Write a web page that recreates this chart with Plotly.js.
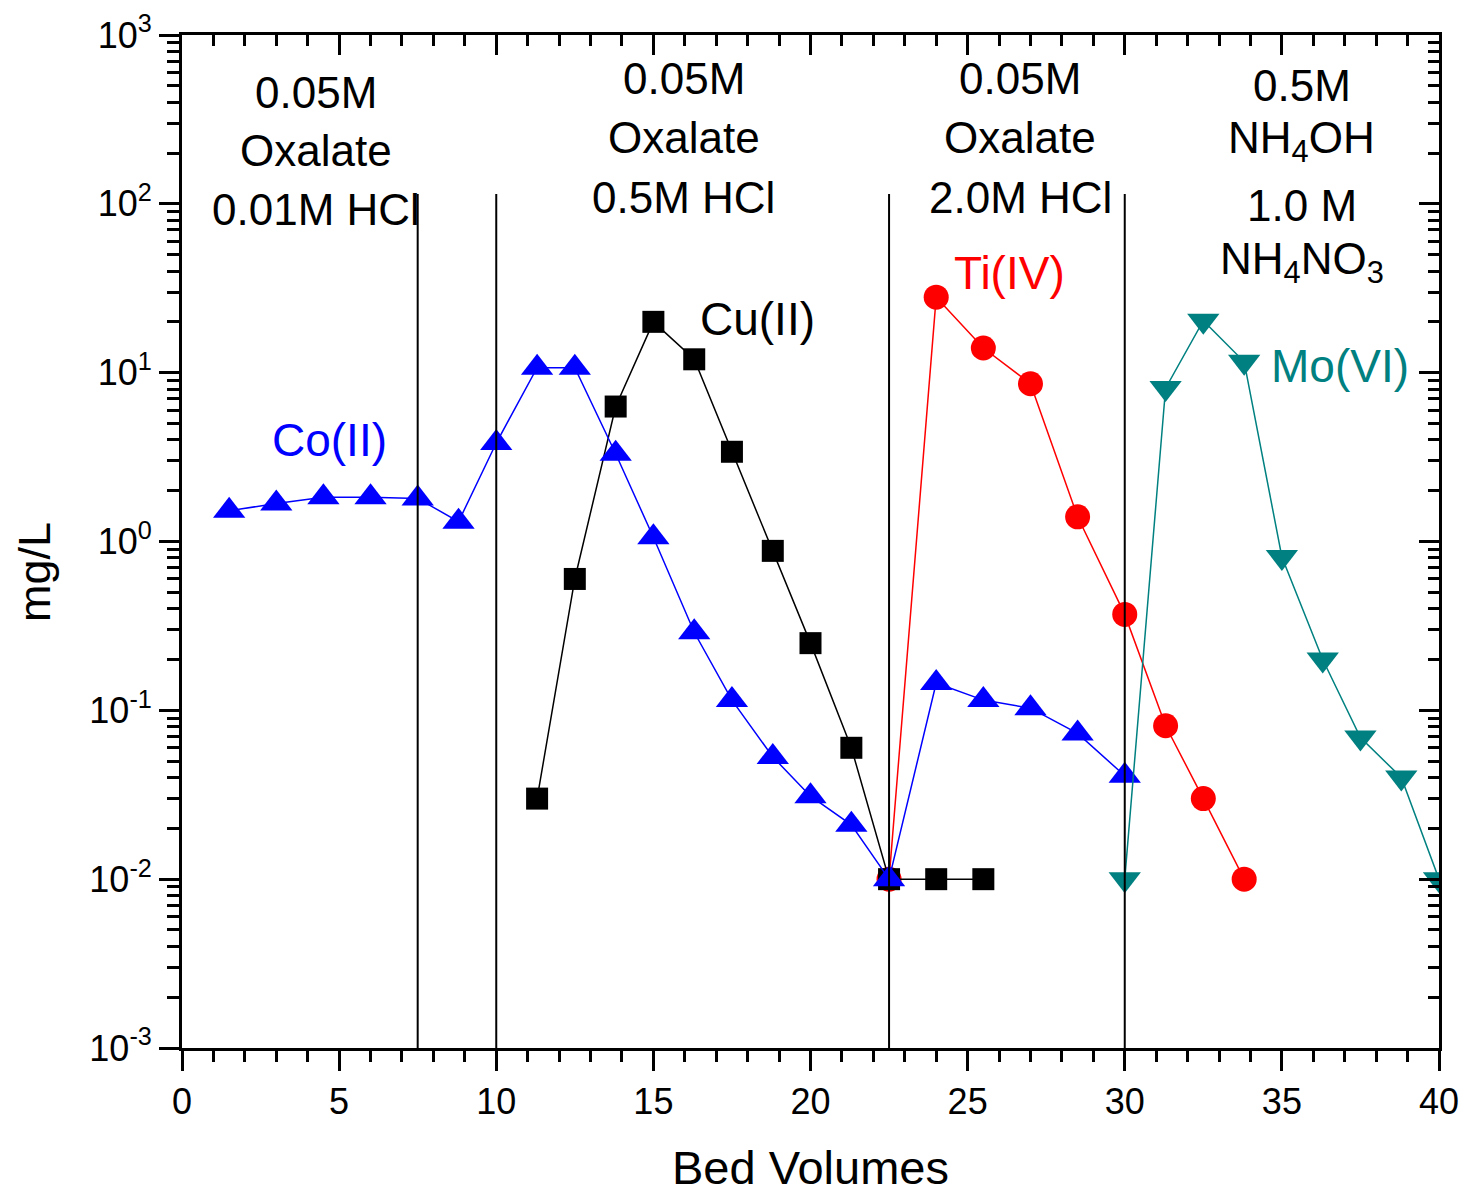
<!DOCTYPE html>
<html>
<head>
<meta charset="utf-8">
<script src="https://cdn.plot.ly/plotly-3.0.1.min.js"></script>
<style>html,body{margin:0;padding:0;background:#fff;}#chart{width:1465px;height:1194px;}</style>
</head>
<body>
<div id="chart"></div>
<script>
// ---- data ----
const xCo = [1.5, 3, 4.5, 6, 7.5, 8.8, 10, 11.3, 12.5, 13.8, 15, 16.3, 17.5, 18.8, 20, 21.3, 22.5, 24, 25.5, 27, 28.5, 30];
const yCo = [1.52, 1.68, 1.83, 1.83, 1.80, 1.31, 3.83, 10.7, 10.7, 3.31, 1.06, 0.29, 0.115, 0.053, 0.031, 0.021, 0.01, 0.145, 0.115, 0.103, 0.073, 0.041];

const xCu = [11.3, 12.5, 13.8, 15, 16.3, 17.5, 18.8, 20, 21.3, 22.5, 24, 25.5];
const yCu = [0.030, 0.60, 6.3, 20, 12, 3.4, 0.88, 0.25, 0.060, 0.01, 0.01, 0.01];

const xTi = [22.5, 24, 25.5, 27, 28.5, 30, 31.3, 32.5, 33.8];
const yTi = [0.01, 28, 14, 8.6, 1.4, 0.37, 0.081, 0.030, 0.01];

const xMo = [30, 31.3, 32.5, 33.8, 35, 36.3, 37.5, 38.8, 40];
const yMo = [0.01, 8.1, 20.3, 11.6, 0.81, 0.20, 0.069, 0.040, 0.01];

const stepBoundaries = [7.5, 10, 22.5, 30];

const yTickVals = [1e-3, 1e-2, 1e-1, 1, 10, 100, 1000];
const yTickText = ['10<sup>-3</sup>', '10<sup>-2</sup>', '10<sup>-1</sup>', '10<sup>0</sup>', '10<sup>1</sup>', '10<sup>2</sup>', '10<sup>3</sup>'];
const xTickVals = [0, 5, 10, 15, 20, 25, 30, 35, 40];
const xTickText = ['0', '5', '10', '15', '20', '25', '30', '35', '40'];

const blockLabels = [
  ['0.05M', 'Oxalate', '0.01M HCl'],
  ['0.05M', 'Oxalate', '0.5M HCl'],
  ['0.05M', 'Oxalate', '2.0M HCl'],
  ['0.5M', 'NH<sub>4</sub>OH', '1.0 M', 'NH<sub>4</sub>NO<sub>3</sub>']
];
const speciesNames = ['Cu(II)', 'Co(II)', 'Ti(IV)', 'Mo(VI)'];
const xTitle = 'Bed Volumes';
const yTitle = 'mg/L';

// ---- layout helpers (positions / styles) ----
const W = 1465, H = 1194;
const mL = 182, mR = 26, mT = 35, mB = 146;
const plotH = H - mT - mB, plotW = W - mL - mR;
function py(p) { return (H - mB - p) / plotH; }   // pixel row -> paper y
function px(p) { return (p - mL) / plotW; }       // pixel column -> paper x

const minorY = [];
for (let e = -3; e < 3; e++) for (let k = 2; k <= 9; k++) minorY.push(k * Math.pow(10, e));

const FONT = 'Liberation Sans, Arial, sans-serif';

const traces = [
  {x: xTi, y: yTi, mode: 'lines+markers', name: 'Ti(IV)',
   line: {color: '#ff0000', width: 1.5}, marker: {symbol: 'circle', size: 25, color: '#ff0000'}},
  {x: xCu, y: yCu, mode: 'lines+markers', name: 'Cu(II)',
   line: {color: '#000000', width: 1.5}, marker: {symbol: 'square', size: 22, color: '#000000'}},
  {x: xCo, y: yCo, mode: 'lines+markers', name: 'Co(II)',
   line: {color: '#0000ff', width: 1.5}, marker: {symbol: 'triangle-up', size: 28, color: '#0000ff'}},
  {x: xMo, y: yMo, mode: 'lines+markers', name: 'Mo(VI)',
   line: {color: '#008080', width: 1.5}, marker: {symbol: 'triangle-down', size: 28, color: '#008080'}},
  {x: [], y: [], xaxis: 'x2', yaxis: 'y2', mode: 'markers', showlegend: false, hoverinfo: 'skip'}
];

const blockX = [4.26, 15.97, 26.67, 35.64];
const blockY = [[92, 151, 209], [78, 137, 197], [78, 137, 197], [85, 141, 205, 262]];
const annotations = [];
blockLabels.forEach((lines, b) => {
  lines.forEach((t, i) => {
    annotations.push({x: blockX[b], xref: 'x', y: py(blockY[b][i]), yref: 'paper',
      text: t, showarrow: false, xanchor: 'center', yanchor: 'middle',
      font: {family: FONT, size: 44, color: '#000'}});
  });
});
const spX = [18.3, 4.68, 26.32, 36.85];
const spY = [319, 440, 273, 366];
const spC = ['#000000', '#0000ff', '#ff0000', '#008080'];
speciesNames.forEach((t, i) => {
  annotations.push({x: spX[i], xref: 'x', y: py(spY[i]), yref: 'paper', text: t,
    showarrow: false, xanchor: 'center', yanchor: 'middle',
    font: {family: FONT, size: 46, color: spC[i]}});
});
// y-axis title (placed as in the reference, slightly below the axis centre)
annotations.push({x: px(34), xref: 'paper', y: py(572), yref: 'paper', text: yTitle, textangle: -90,
  showarrow: false, xanchor: 'center', yanchor: 'middle',
  font: {family: FONT, size: 45, color: '#000'}});

const shapes = stepBoundaries.map(v => ({type: 'line', xref: 'x', yref: 'paper',
  x0: v, x1: v, y0: 0, y1: py(194), line: {color: '#000', width: 2}}));

const layout = {
  width: W, height: H,
  margin: {l: mL, r: mR, t: mT, b: mB},
  paper_bgcolor: '#fff', plot_bgcolor: '#fff',
  showlegend: false,
  font: {family: FONT, color: '#000'},
  xaxis: {range: [0, 40], showgrid: false, zeroline: false, showline: true, linecolor: '#000', linewidth: 3,
    tickvals: xTickVals, ticktext: xTickText, ticks: 'outside', ticklen: 20, tickwidth: 3, tickcolor: '#000',
    minor: {dtick: 1, ticks: 'outside', ticklen: 11, tickwidth: 3, tickcolor: '#000'},
    tickfont: {family: FONT, size: 36, color: '#000'},
    title: {text: xTitle, font: {family: FONT, size: 47, color: '#000'}, standoff: 33}},
  yaxis: {type: 'log', range: [-3, 3], showgrid: false, zeroline: false, showline: true, linecolor: '#000', linewidth: 3,
    tickvals: yTickVals, ticktext: yTickText, ticks: 'outside', ticklen: 20, tickwidth: 3, tickcolor: '#000',
    minor: {tickvals: minorY, ticks: 'outside', ticklen: 12, tickwidth: 3, tickcolor: '#000'},
    tickfont: {family: FONT, size: 36, color: '#000'}},
  xaxis2: {overlaying: 'x', side: 'top', anchor: 'y', range: [0, 40], showgrid: false, zeroline: false,
    showline: true, linecolor: '#000', linewidth: 3, showticklabels: false,
    tickvals: xTickVals, ticks: 'inside', ticklen: 20, tickwidth: 3, tickcolor: '#000',
    minor: {dtick: 1, ticks: 'inside', ticklen: 11, tickwidth: 3, tickcolor: '#000'}},
  yaxis2: {overlaying: 'y', side: 'right', anchor: 'x', type: 'log', range: [-3, 3], showgrid: false, zeroline: false,
    showline: true, linecolor: '#000', linewidth: 3, showticklabels: false,
    tickvals: yTickVals, ticks: 'inside', ticklen: 20, tickwidth: 3, tickcolor: '#000',
    minor: {tickvals: minorY, ticks: 'inside', ticklen: 11, tickwidth: 3, tickcolor: '#000'}},
  annotations: annotations,
  shapes: shapes
};

Plotly.newPlot('chart', traces, layout, {displayModeBar: false, staticPlot: true});
</script>
</body>
</html>
